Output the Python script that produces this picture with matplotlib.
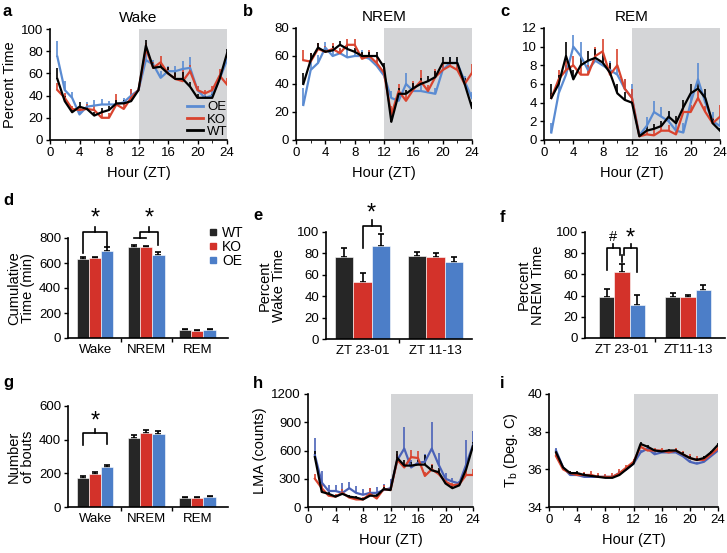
import numpy as np
import matplotlib
matplotlib.use('Agg')
import matplotlib.pyplot as plt
from matplotlib.lines import Line2D

plt.rcParams['font.family'] = ['Liberation Sans', 'DejaVu Sans']
plt.rcParams['font.size'] = 8.5

# ---- data ----
hours = list(range(1, 25))
groups = ['WT', 'KO', 'OE']

wake_oe = [75, 45, 38, 23, 30, 31, 32, 32, 32, 34, 40, 45, 72, 68, 56, 62, 62, 64, 65, 45, 38, 40, 55, 72]
wake_ko = [45, 38, 28, 27, 28, 27, 20, 20, 32, 28, 38, 45, 82, 65, 70, 60, 55, 53, 62, 45, 42, 45, 58, 50]
wake_wt = [55, 35, 25, 30, 28, 22, 25, 27, 33, 33, 35, 45, 85, 65, 66, 60, 55, 55, 48, 38, 38, 38, 55, 78]
wake_oe_err = [14, 8, 5, 4, 4, 5, 5, 3, 3, 4, 6, 4, 8, 4, 6, 5, 5, 7, 10, 4, 3, 4, 5, 6]
wake_ko_err = [6, 4, 3, 3, 4, 4, 5, 4, 9, 6, 8, 4, 5, 5, 6, 6, 5, 10, 6, 4, 3, 4, 6, 6]
wake_wt_err = [10, 5, 3, 4, 3, 3, 4, 4, 3, 3, 4, 4, 5, 4, 4, 6, 6, 6, 4, 3, 2, 3, 4, 4]

nrem_oe = [25, 50, 55, 66, 60, 62, 59, 60, 60, 58, 53, 46, 30, 28, 40, 35, 35, 34, 33, 50, 55, 55, 42, 30]
nrem_ko = [57, 56, 65, 63, 65, 62, 68, 68, 58, 60, 55, 48, 18, 35, 28, 36, 42, 35, 45, 50, 53, 50, 40, 48]
nrem_wt = [40, 57, 66, 63, 64, 68, 65, 63, 60, 60, 60, 52, 13, 33, 33, 37, 40, 42, 45, 55, 55, 55, 40, 23]
nrem_oe_err = [12, 8, 6, 4, 4, 3, 5, 4, 4, 4, 4, 3, 5, 5, 8, 4, 4, 4, 4, 4, 4, 3, 4, 4]
nrem_ko_err = [7, 6, 4, 4, 4, 4, 4, 4, 4, 4, 4, 4, 6, 5, 4, 6, 8, 4, 6, 4, 4, 4, 4, 6]
nrem_wt_err = [8, 5, 3, 3, 3, 3, 3, 3, 3, 3, 3, 3, 4, 4, 3, 4, 4, 4, 4, 4, 4, 4, 4, 4]

rem_oe = [0.8, 5, 7, 10, 9, 7.5, 8.5, 8, 7.5, 7, 5.5, 4.5, 0.5, 1.5, 3, 2.5, 2, 1, 0.8, 4, 6.5, 4, 2, 1.5]
rem_ko = [4.5, 6.5, 7.5, 8, 7, 7, 9, 9.5, 7, 8, 5.5, 4.5, 0.4, 0.6, 0.5, 1, 1, 0.6, 3, 3, 4.5, 3, 1.8, 2.5]
rem_wt = [4.5, 6, 9, 6.5, 8, 8.5, 8.8, 8.3, 7.2, 5, 4.3, 4, 0.4, 1, 1.2, 1.5, 2.5, 1.8, 3.5, 5, 5.5, 4.5, 1.8, 1]
rem_oe_err = [1, 1, 1, 1.3, 1.5, 1, 1, 1, 1, 1, 1, 1.5, 0.5, 1, 1.2, 1, 1, 1, 1, 1, 1.8, 1, 1, 1]
rem_ko_err = [0.5, 1, 1, 1, 1, 1, 1, 1.3, 1, 1.8, 1, 1, 0.3, 0.5, 0.8, 0.5, 0.6, 0.5, 0.8, 0.8, 0.8, 0.6, 0.6, 1.2]
rem_wt_err = [1.5, 1, 1.5, 1, 1, 1, 1, 1, 1, 1, 0.8, 0.5, 0.3, 0.5, 0.5, 0.5, 0.6, 0.8, 0.8, 1, 0.8, 1, 0.5, 0.3]

lma_oe = [550, 260, 170, 170, 150, 200, 150, 130, 150, 150, 180, 200, 500, 620, 420, 470, 480, 620, 450, 300, 270, 250, 450, 660]
lma_ko = [300, 200, 120, 110, 150, 100, 80, 80, 140, 90, 190, 180, 500, 420, 530, 520, 330, 400, 350, 270, 230, 240, 340, 340]
lma_wt = [530, 160, 140, 110, 140, 110, 100, 80, 120, 120, 190, 180, 520, 440, 440, 450, 450, 390, 370, 250, 200, 230, 400, 650]
lma_oe_err = [180, 120, 60, 60, 110, 70, 70, 60, 50, 60, 60, 100, 60, 230, 80, 60, 80, 280, 120, 60, 40, 30, 260, 150]
lma_ko_err = [50, 40, 30, 30, 40, 30, 30, 30, 60, 40, 40, 30, 60, 40, 80, 80, 40, 60, 40, 40, 30, 30, 60, 60]
lma_wt_err = [60, 30, 20, 20, 20, 20, 20, 20, 20, 20, 20, 20, 80, 60, 40, 50, 100, 60, 40, 30, 30, 30, 40, 40]

tb_oe = [37.0, 36.1, 35.7, 35.7, 35.6, 35.6, 35.6, 35.6, 35.6, 35.8, 36.0, 36.3, 36.9, 37.1, 36.8, 36.9, 36.9, 36.9, 36.7, 36.4, 36.3, 36.4, 36.7, 37.0]
tb_ko = [36.7, 36.0, 35.8, 35.7, 35.7, 35.7, 35.6, 35.6, 35.6, 35.8, 36.1, 36.4, 37.2, 37.0, 37.0, 37.0, 36.9, 37.0, 36.8, 36.6, 36.5, 36.5, 36.8, 37.1]
tb_wt = [36.9, 36.1, 35.8, 35.8, 35.7, 35.65, 35.6, 35.55, 35.55, 35.7, 36.0, 36.3, 37.35, 37.2, 37.0, 36.95, 37.0, 37.0, 36.8, 36.6, 36.5, 36.6, 36.9, 37.3]
tb_oe_err = [0.15, 0.1, 0.1, 0.1, 0.1, 0.1, 0.1, 0.1, 0.1, 0.1, 0.1, 0.1, 0.15, 0.1, 0.1, 0.1, 0.1, 0.1, 0.1, 0.1, 0.1, 0.1, 0.1, 0.1]
tb_ko_err = [0.15, 0.1, 0.1, 0.1, 0.15, 0.2, 0.2, 0.15, 0.2, 0.2, 0.15, 0.15, 0.15, 0.1, 0.15, 0.15, 0.1, 0.15, 0.2, 0.2, 0.2, 0.2, 0.15, 0.15]
tb_wt_err = [0.1, 0.1, 0.1, 0.1, 0.1, 0.1, 0.1, 0.1, 0.1, 0.1, 0.1, 0.1, 0.1, 0.1, 0.1, 0.1, 0.1, 0.1, 0.1, 0.1, 0.1, 0.1, 0.1, 0.1]

states = ['Wake', 'NREM', 'REM']
cum_time = {'WT': [635, 728, 62], 'KO': [640, 728, 60], 'OE': [700, 665, 62]}
cum_time_err = {'WT': [15, 15, 8], 'KO': [5, 5, 5], 'OE': [25, 20, 8]}

windows_e = ['ZT 23-01', 'ZT 11-13']
wake_pct = {'WT': [77, 78], 'KO': [53, 77], 'OE': [87, 72]}
wake_pct_err = {'WT': [8, 3], 'KO': [9, 3], 'OE': [11, 5]}

windows_f = ['ZT 23-01', 'ZT11-13']
nrem_pct = {'WT': [39, 39], 'KO': [62, 39], 'OE': [31, 45]}
nrem_pct_err = {'WT': [7, 3], 'KO': [8, 2], 'OE': [10, 5]}

bouts = {'WT': [175, 410, 55], 'KO': [197, 440, 53], 'OE': [237, 432, 60]}
bouts_err = {'WT': [12, 15, 5], 'KO': [12, 18, 4], 'OE': [10, 18, 8]}

line_col = {'WT': 'black', 'KO': '#d9432e', 'OE': '#5a8bd2'}
bar_col = {'WT': '#262626', 'KO': '#d3322a', 'OE': '#4c7ec8'}
shade = '#d4d5d7'

W, H = 727, 553
fig = plt.figure(figsize=(W / 100, H / 100), dpi=100)


def px_axes(l, t, r, b):
    return fig.add_axes([l / W, 1 - b / H, (r - l) / W, (b - t) / H])


def style(ax):
    for s in ['top', 'right']:
        ax.spines[s].set_visible(False)
    for s in ['left', 'bottom']:
        ax.spines[s].set_linewidth(1.2)
    ax.tick_params(direction='out', length=3, width=1, labelsize=9.5, pad=2)


def line_panel(ax, series, ymax, yticks, cols=line_col):
    style(ax)
    ax.axvspan(12, 24, color=shade, lw=0, zorder=0)
    for g in ['OE', 'KO', 'WT']:
        y, e = series[g]
        ax.errorbar(hours, y, yerr=[np.zeros(len(e)), e], color=cols[g],
                    lw=1.6, elinewidth=1.2, capsize=0)
    ax.set_xlim(0, 24)
    ax.set_ylim(yticks[0], ymax)
    ax.set_xticks(range(0, 25, 4))
    ax.set_xticks(range(0, 25, 2), minor=True)
    ax.tick_params(which='minor', direction='out', length=2)
    ax.set_yticks(yticks)
    ax.set_xlabel('Hour (ZT)', fontsize=10.5, labelpad=5)


def bar_panel(ax, cats, vals, errs, width, xlim, yticks):
    style(ax)
    x = np.arange(len(cats))
    for j, g in enumerate(groups):
        ax.bar(x + (j - 1) * width, vals[g], width, color=bar_col[g],
               edgecolor='white', linewidth=0.4, zorder=2)
        ax.errorbar(x + (j - 1) * width, vals[g], yerr=[np.zeros(len(cats)), errs[g]],
                    fmt='none', ecolor='black', elinewidth=1.2, capsize=2, capthick=1.2, zorder=1)
    ax.set_xlim(*xlim)
    ax.set_ylim(yticks[0], yticks[-1])
    ax.set_yticks(yticks)
    ax.set_xticks(np.arange(len(cats) - 1) + 0.5)
    ax.set_xticklabels([])
    for i, c in enumerate(cats):
        ax.text(i, -0.06, c, transform=ax.get_xaxis_transform(), ha='center', va='top', fontsize=9.5)


def bracket(ax, x1, x2, ytop, y1, y2, text, ytick, ytext, fs=17):
    ax.plot([x1, x1, x2, x2], [y1, ytop, ytop, y2], color='black', lw=1.2, clip_on=False)
    xm = (x1 + x2) / 2
    ax.plot([xm, xm], [ytop, ytick], color='black', lw=1.2, clip_on=False)
    ax.text(xm, ytext, text, ha='center', va='center', fontsize=fs)


# ---- a: Wake ----
ax = px_axes(50, 29, 227, 140)
line_panel(ax, {'OE': (wake_oe, wake_oe_err), 'KO': (wake_ko, wake_ko_err), 'WT': (wake_wt, wake_wt_err)},
           100, [0, 20, 40, 60, 80, 100])
ax.set_title('Wake', fontsize=11, pad=5)
ax.set_ylabel('Percent Time', fontsize=10.5, labelpad=3)
leg_handles = [Line2D([], [], color=line_col[g], lw=2) for g in ['OE', 'KO', 'WT']]
ax.legend(leg_handles, ['OE', 'KO', 'WT'], loc='lower right', bbox_to_anchor=(1.04, -0.04),
          frameon=False, fontsize=9.5, handlelength=1.2, handletextpad=0.3,
          labelspacing=0.0, borderaxespad=0.1)

# ---- b: NREM ----
ax = px_axes(296, 28, 472, 140)
line_panel(ax, {'OE': (nrem_oe, nrem_oe_err), 'KO': (nrem_ko, nrem_ko_err), 'WT': (nrem_wt, nrem_wt_err)},
           80, [0, 20, 40, 60, 80])
ax.set_title('NREM', fontsize=11, pad=5)

# ---- c: REM ----
ax = px_axes(544, 28, 720, 140)
line_panel(ax, {'OE': (rem_oe, rem_oe_err), 'KO': (rem_ko, rem_ko_err), 'WT': (rem_wt, rem_wt_err)},
           12, [0, 2, 4, 6, 8, 10, 12])
ax.set_title('REM', fontsize=11, pad=5)

# ---- d: cumulative time ----
ax = px_axes(68, 238, 228, 338)
bar_panel(ax, states, cum_time, cum_time_err, 0.24, (-0.53, 2.6), [0, 200, 400, 600, 800])
ax.set_ylabel('Cumulative\nTime (min)', fontsize=10.5, labelpad=3, linespacing=1.0)
bracket(ax, -0.24, 0.24, 850, 680, 730, '*', 890, 955)
bracket(ax, 0.88, 1.24, 850, 797, 745, '*', 890, 955)
ax.plot([0.76, 1.0], [797, 797], color='black', lw=1.2, clip_on=False)
handles = [Line2D([], [], marker='s', ls='none', color=bar_col[g], markersize=4) for g in groups]
fig.legend(handles, groups, loc='upper left', bbox_to_anchor=(200 / W, 1 - 220 / H), frameon=False,
           fontsize=10, handletextpad=0.2, labelspacing=0.0, handlelength=1.0, borderaxespad=0)

# ---- e: wake percent ----
ax = px_axes(326, 232, 472, 339)
bar_panel(ax, windows_e, wake_pct, wake_pct_err, 0.25, (-0.5, 1.5), [0, 20, 40, 60, 80, 100])
ax.set_ylabel('Percent\nWake Time', fontsize=10.5, labelpad=8, linespacing=1.0)
bracket(ax, 0.0, 0.25, 106, 85, 101, '*', 111, 117)

# ---- f: NREM percent ----
ax = px_axes(585, 232, 725, 338)
bar_panel(ax, windows_f, nrem_pct, nrem_pct_err, 0.23, (-0.56, 1.56), [0, 20, 40, 60, 80, 100])
ax.set_ylabel('Percent\nNREM Time', fontsize=10.5, labelpad=8, linespacing=1.0)
bracket(ax, -0.23, -0.03, 85, 64, 78, '#', 89, 95, fs=10.5)
bracket(ax, 0.03, 0.23, 85, 78, 62, '*', 89, 94)
ax.plot([0.0, 0.0], [78, 72], color='black', lw=1.2)

# ---- g: bouts ----
ax = px_axes(68, 406, 228, 507)
bar_panel(ax, states, bouts, bouts_err, 0.24, (-0.53, 2.6), [0, 200, 400, 600])
ax.set_ylabel('Number\nof bouts', fontsize=10.5, labelpad=3, linespacing=1.0)
bracket(ax, -0.24, 0.24, 440, 370, 375, '*', 465, 505)

# ---- h: LMA ----
ax = px_axes(308, 394, 473, 507)
line_panel(ax, {'OE': (lma_oe, lma_oe_err), 'KO': (lma_ko, lma_ko_err), 'WT': (lma_wt, lma_wt_err)},
           1200, [0, 300, 600, 900, 1200], cols={'WT': 'black', 'KO': '#d9432e', 'OE': '#4a62b8'})
ax.set_ylabel('LMA (counts)', fontsize=10.5, labelpad=3)

# ---- i: body temperature ----
ax = px_axes(549, 394, 718, 507)
line_panel(ax, {'OE': (tb_oe, tb_oe_err), 'KO': (tb_ko, tb_ko_err), 'WT': (tb_wt, tb_wt_err)},
           40, [34, 36, 38, 40], cols={'WT': 'black', 'KO': '#d9432e', 'OE': '#4a62b8'})
ax.set_ylabel('T$_\\mathregular{b}$ (Deg. C)', fontsize=10.5, labelpad=5)

# panel letters
for lab, x, y in [('a', 3, 12), ('b', 243, 12), ('c', 500, 12), ('d', 3, 200), ('e', 253, 215),
                  ('f', 500, 217), ('g', 3, 383), ('h', 253, 383), ('i', 500, 383)]:
    fig.text(x / W, 1 - y / H, lab, fontsize=12, fontweight='bold', va='center')

fig.savefig('out.png', dpi=100)
